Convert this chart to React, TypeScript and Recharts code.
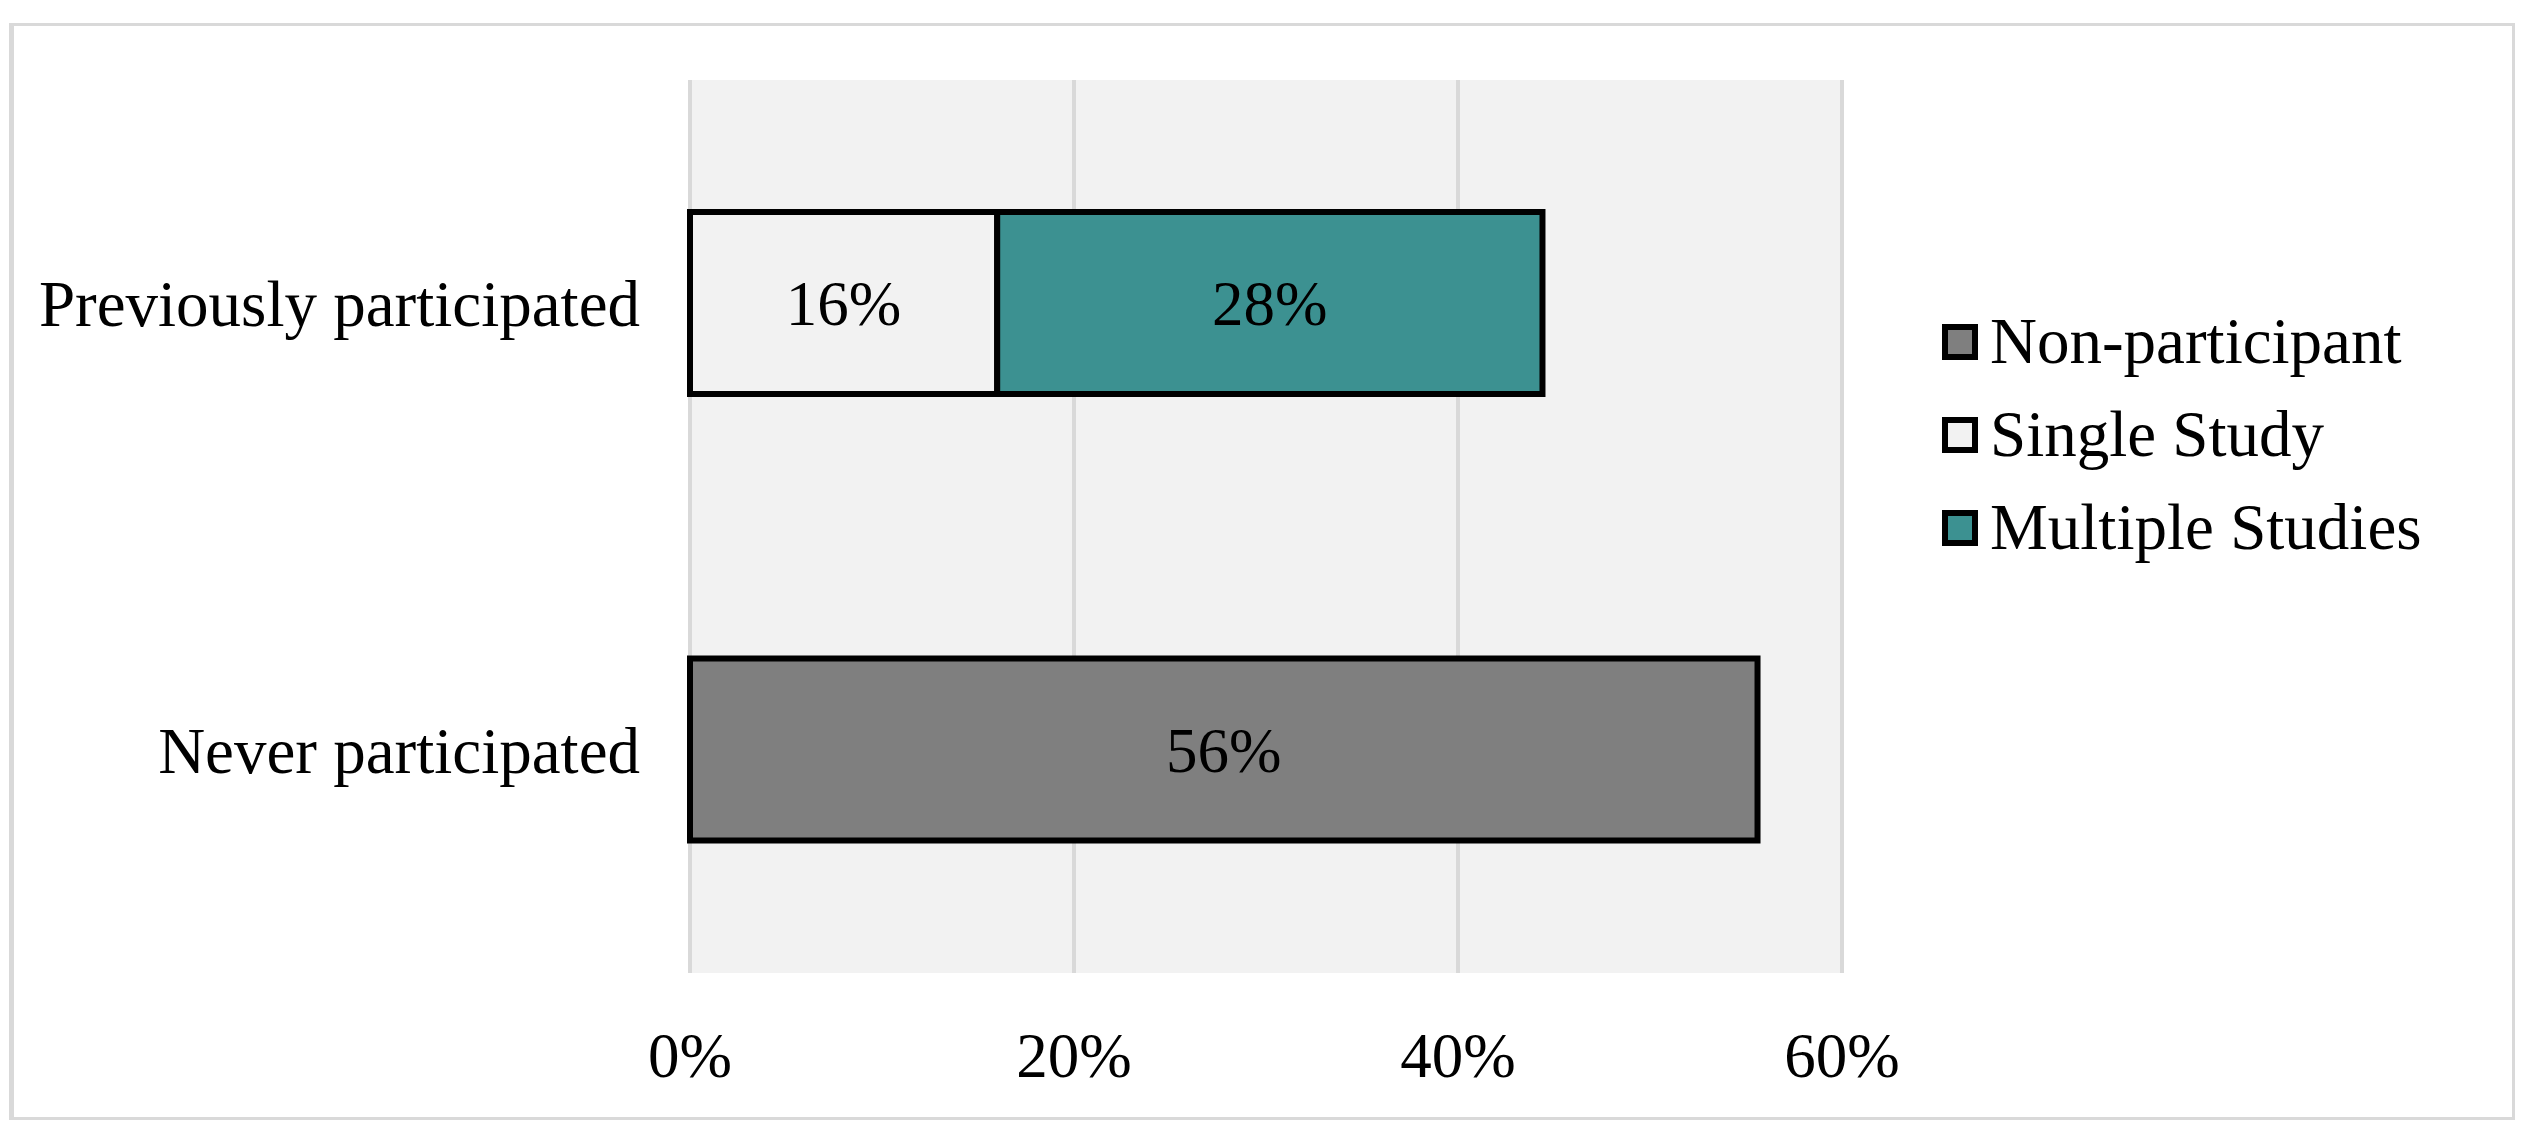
import { BarChart, Bar, XAxis, YAxis, CartesianGrid, Legend, LabelList } from 'recharts';

const categories = ['Previously participated', 'Never participated'];
const nonParticipant = [0, 55.6];
const singleStudy = [16.0, 0];
const multipleStudies = [28.4, 0];
const xTicks = [0, 20, 40, 60];

const seriesNames = ['Non-participant', 'Single Study', 'Multiple Studies'];
const seriesColors = ['#7f7f7f', '#f2f2f2', '#3c9191'];

const FONT = '"Liberation Serif", "Times New Roman", serif';

const data = categories.map((name, i) => ({
    name,
    non: nonParticipant[i],
    single: singleStudy[i],
    multiple: multipleStudies[i],
}));

function LegendBox() {
    return (
        <div style={{ fontFamily: FONT, fontSize: 65, color: '#000' }}>
            {seriesNames.map((name, i) => (
                <div key={name} style={{ display: 'flex', alignItems: 'center', height: 93 }}>
                    <div
                        style={{
                            width: 24,
                            height: 24,
                            border: '6px solid #000',
                            background: seriesColors[i],
                            marginRight: 12,
                        }}
                    />
                    <span style={{ lineHeight: '93px' }}>{name}</span>
                </div>
            ))}
        </div>
    );
}

const pct = (v: any) => (v ? `${Math.round(Number(v))}%` : '');

export default function App() {
    return (
        <div style={{ position: 'absolute', left: 0, top: 0, width: 2538, height: 1136, background: '#fff' }}>
            {/* outer chart frame */}
            <div
                style={{
                    position: 'absolute',
                    left: 9,
                    top: 23,
                    width: 2498,
                    height: 1091,
                    borderTop: '3px solid #d9d9d9',
                    borderRight: '3px solid #d9d9d9',
                    borderBottom: '3px solid #d9d9d9',
                    borderLeft: '5px solid #d9d9d9',
                }}
            />
            <div style={{ position: 'absolute', left: 0, top: 0 }}>
                <BarChart
                    width={2538}
                    height={1136}
                    data={data}
                    layout="vertical"
                    margin={{ top: 80, right: 696, left: 0, bottom: 0 }}
                    barSize={182}
                >
                    <CartesianGrid horizontal={false} fill="#f2f2f2" stroke="#d9d9d9" strokeWidth={4} />
                    <XAxis
                        type="number"
                        domain={[0, 60]}
                        ticks={xTicks}
                        tickFormatter={(v) => `${v}%`}
                        axisLine={false}
                        tickLine={false}
                        tickMargin={53}
                        height={163}
                        tick={{ fill: '#000', fontSize: 63, fontFamily: FONT }}
                    />
                    <YAxis
                        type="category"
                        dataKey="name"
                        width={690}
                        axisLine={false}
                        tickLine={false}
                        tickMargin={44}
                        tick={{ fill: '#000', fontSize: 65, fontFamily: FONT }}
                    />
                    <Legend
                        layout="vertical"
                        align="center"
                        verticalAlign="middle"
                        wrapperStyle={{ left: 1942, top: 295, width: 580 }}
                        content={() => <LegendBox />}
                    />
                    <Bar dataKey="non" name={seriesNames[0]} stackId="a" fill={seriesColors[0]} stroke="#000" strokeWidth={6} isAnimationActive={false}>
                        <LabelList dataKey="non" position="center" formatter={pct} fill="#000" fontSize={63} fontFamily={FONT} />
                    </Bar>
                    <Bar dataKey="single" name={seriesNames[1]} stackId="a" fill={seriesColors[1]} stroke="#000" strokeWidth={6} isAnimationActive={false}>
                        <LabelList dataKey="single" position="center" formatter={pct} fill="#000" fontSize={63} fontFamily={FONT} />
                    </Bar>
                    <Bar dataKey="multiple" name={seriesNames[2]} stackId="a" fill={seriesColors[2]} stroke="#000" strokeWidth={6} isAnimationActive={false}>
                        <LabelList dataKey="multiple" position="center" formatter={pct} fill="#000" fontSize={63} fontFamily={FONT} />
                    </Bar>
                </BarChart>
            </div>
        </div>
    );
}
